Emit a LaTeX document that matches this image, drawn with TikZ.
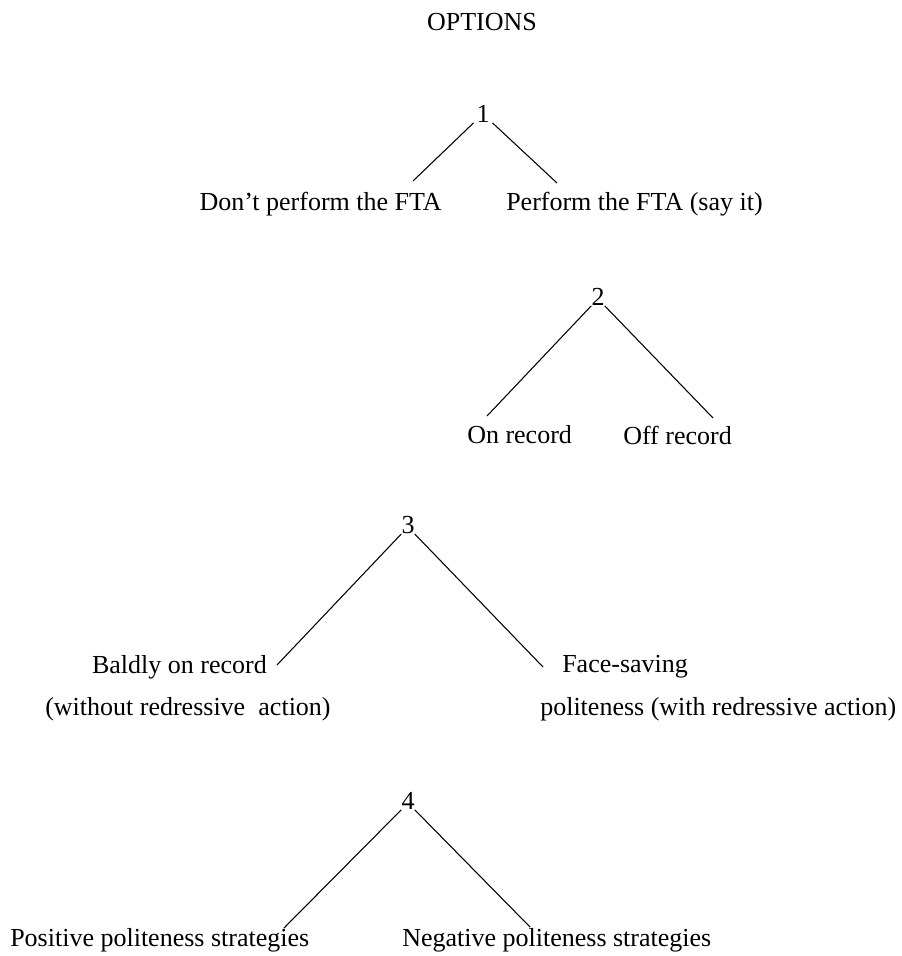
\documentclass[tikz,border=0pt]{standalone}
\usepackage{fontspec}
\setmainfont{Liberation Serif}
\begin{document}
\begin{tikzpicture}[x=0.75pt,y=-0.75pt,
  lbl/.style={inner sep=0pt,font=\fontsize{19.5pt}{22pt}\selectfont},
  num/.style={inner sep=0pt,font=\fontsize{19.5pt}{22pt}\selectfont},
  branch/.style={line width=0.8pt}]
\useasboundingbox (0,0) rectangle (902,956);
% heading
\node[lbl] (title) at (482,22) {OPTIONS};
% level 1
\node[num] (n1) at (483,114) {1};
\node[lbl,anchor=east] (dont) at (442,204) {Don’t perform the FTA};
\node[lbl,anchor=west] (perf) at (506,204) {Perform the FTA (say it)};
\coordinate (d1) at (413,181);
\coordinate (p1) at (557,183);
\draw[branch] ([xshift=-2pt]n1.south west) -- (d1);
\draw[branch] ([xshift=2pt]n1.south east) -- (p1);
% level 2
\node[num] (n2) at (598,297) {2};
\node[lbl,anchor=west] (on) at (467,435) {On record};
\node[lbl,anchor=west] (off) at (623,435) {Off record};
\coordinate (o1) at (487,416);
\coordinate (f1) at (713,418);
\draw[branch] (n2.south west) -- (o1);
\draw[branch] (n2.south east) -- (f1);
% level 3
\node[num] (n3) at (408,525) {3};
\node[lbl,anchor=east] (bald) at (267,667) {Baldly on record};
\node[lbl,anchor=west] (baldb) at (45,709) {(without redressive\hspace{5pt} action)};
\node[lbl,anchor=west] (face) at (562,667) {Face-saving};
\node[lbl,anchor=west] (faceb) at (540,709) {politeness (with redressive action)};
\coordinate (b1) at (277,665);
\coordinate (s1) at (543,667);
\draw[branch] (n3.south west) -- (b1);
\draw[branch] (n3.south east) -- (s1);
% level 4
\node[num] (n4) at (408,801) {4};
\node[lbl,anchor=west] (pos) at (10,940) {Positive politeness strategies};
\node[lbl,anchor=west] (neg) at (402,940) {Negative politeness strategies};
\coordinate (q1) at (284,928);
\coordinate (r1) at (530,927);
\draw[branch] (n4.south west) -- (q1);
\draw[branch] (n4.south east) -- (r1);
\end{tikzpicture}
\end{document}
